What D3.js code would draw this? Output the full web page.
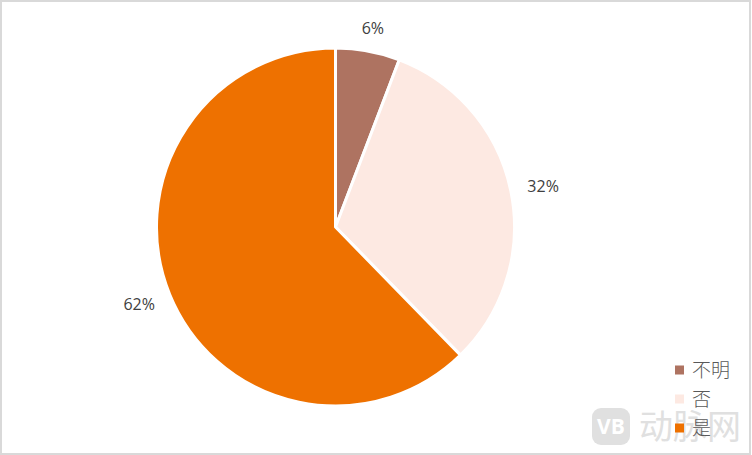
<!DOCTYPE html>
<html><head><meta charset="utf-8">
<script src="https://cdn.jsdelivr.net/npm/d3@7/dist/d3.min.js"></script>
<style>html,body{margin:0;padding:0;background:#fff;overflow:hidden}svg{display:block}
text{font-family:"Open Sans","Noto Sans CJK SC",sans-serif}</style></head>
<body><svg id="c" width="752" height="455"></svg>
<script>
const categories = ["不明","否","是"];
const values = [5.8,31.9,62.3];
const labels = ["6%","32%","62%"];
const colors = ["#ae7361","#fde9e2","#ee7100"];
const svg = d3.select("#c");
svg.append("rect").attr("x",1).attr("y",1).attr("width",749).attr("height",453)
  .attr("fill","#fff").attr("stroke","#d9d9d9").attr("stroke-width",2);
const cx=335.5, cy=227, R=179;
const pie=d3.pie().sort(null)(values);
const arc=d3.arc().innerRadius(0).outerRadius(R);
const g=svg.append("g").attr("transform",`translate(${cx},${cy})`);
g.selectAll("path").data(pie).join("path").attr("d",arc)
  .attr("fill",(d,i)=>colors[i]).attr("stroke","#fff").attr("stroke-width",3).attr("stroke-linejoin","round");
const midAngle=d=>(d.startAngle+d.endAngle)/2;
g.selectAll("text").data(pie).join("text")
  .attr("x",d=>Math.sin(midAngle(d))*(R+33)-(midAngle(d)<0.5?1:0))
  .attr("y",d=>-Math.cos(midAngle(d))*(R+24)+(midAngle(d)<0.5?1:0))
  .attr("text-anchor","middle").attr("dominant-baseline","central")
  .attr("font-size",16).attr("fill","#404040").text((d,i)=>labels[i]);
// watermark (under the legend)
const wm=svg.append("g");
wm.append("rect").attr("x",592).attr("y",408).attr("width",38).attr("height",37).attr("rx",9).attr("fill","#e0e0e0");
wm.append("text").attr("x",611).attr("y",434).attr("text-anchor","middle").attr("font-size",21).attr("font-weight",700).attr("fill","#fff").text("VB");
wm.append("text").attr("x",639).attr("y",439).attr("font-size",34).attr("fill","#e0e0e0").style("font-family","'Noto Sans CJK SC'").text("动脉网");
const y=d3.scalePoint().domain(categories).range([370,428]);
const lg=svg.append("g").selectAll("g").data(categories).join("g")
  .attr("transform",d=>`translate(675,${y(d)})`);
lg.append("rect").attr("x",0).attr("y",-4.5).attr("width",9).attr("height",9).attr("fill",(d,i)=>colors[i]);
lg.append("text").attr("x",17).attr("y",-2).attr("dominant-baseline","central").attr("font-size",19)
  .attr("fill","#595959").style("font-family","'Noto Sans CJK SC'").style("font-weight",300).text(d=>d);
</script></body></html>
